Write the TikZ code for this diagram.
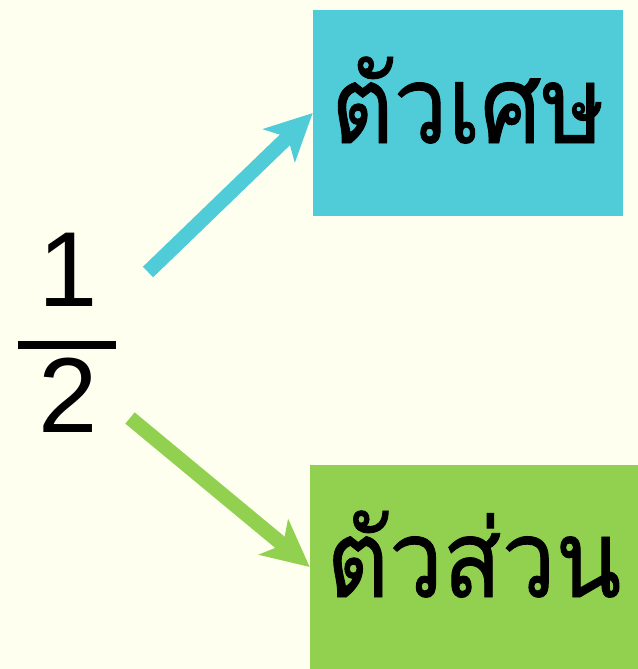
\documentclass[tikz,border=0pt]{standalone}
\usepackage{fontspec}
\setmainfont{Liberation Sans}
\newfontfamily\thaifont[Script=Thai,FakeStretch=0.89,FakeBold=0.8]{Loma}
\usetikzlibrary{arrows.meta,positioning}

\definecolor{bgcream}{HTML}{FFFFF0}
\definecolor{numcyan}{HTML}{50CCD8}
\definecolor{dengreen}{HTML}{92D150}

\tikzset{
  partbox/.style={inner sep=0pt, text height=45pt, text depth=0pt,
    font=\thaifont\fontsize{81}{96}\selectfont},
  partarrow/.style={line width=11pt, -{Stealth[length=35pt,width=34pt,inset=9pt]}},
  digit/.style={inner sep=0pt, font=\fontsize{80}{96}\selectfont}
}

\begin{document}
\begin{tikzpicture}[x=0.75pt,y=-0.75pt]

% Background
\fill[bgcream] (0,0) rectangle (638,669);
\useasboundingbox (0,0) rectangle (638,669);

% Fraction
\node[digit] (one) at (68,270) {1};
\node[fill=black, inner sep=0pt, minimum width=73.5pt, minimum height=6pt] (bar) at (67,345) {};
\node[digit] (two) at (68,395) {2};

% Numerator and denominator boxes
\node[partbox, fill=numcyan, minimum width=232.5pt, minimum height=154.5pt] (numer) at (468,113) {ตัวเศษ};
\node[partbox, fill=dengreen, minimum width=246pt, minimum height=153pt] (denom) at (474,567) {ตัวส่วน};

% Arrows
\coordinate (onetail) at (148,272);
\coordinate (twotail) at (130,418);
\draw[partarrow, numcyan] (onetail) -- (numer.west);
\draw[partarrow, dengreen] (twotail) -- (denom.west);

\end{tikzpicture}
\end{document}
